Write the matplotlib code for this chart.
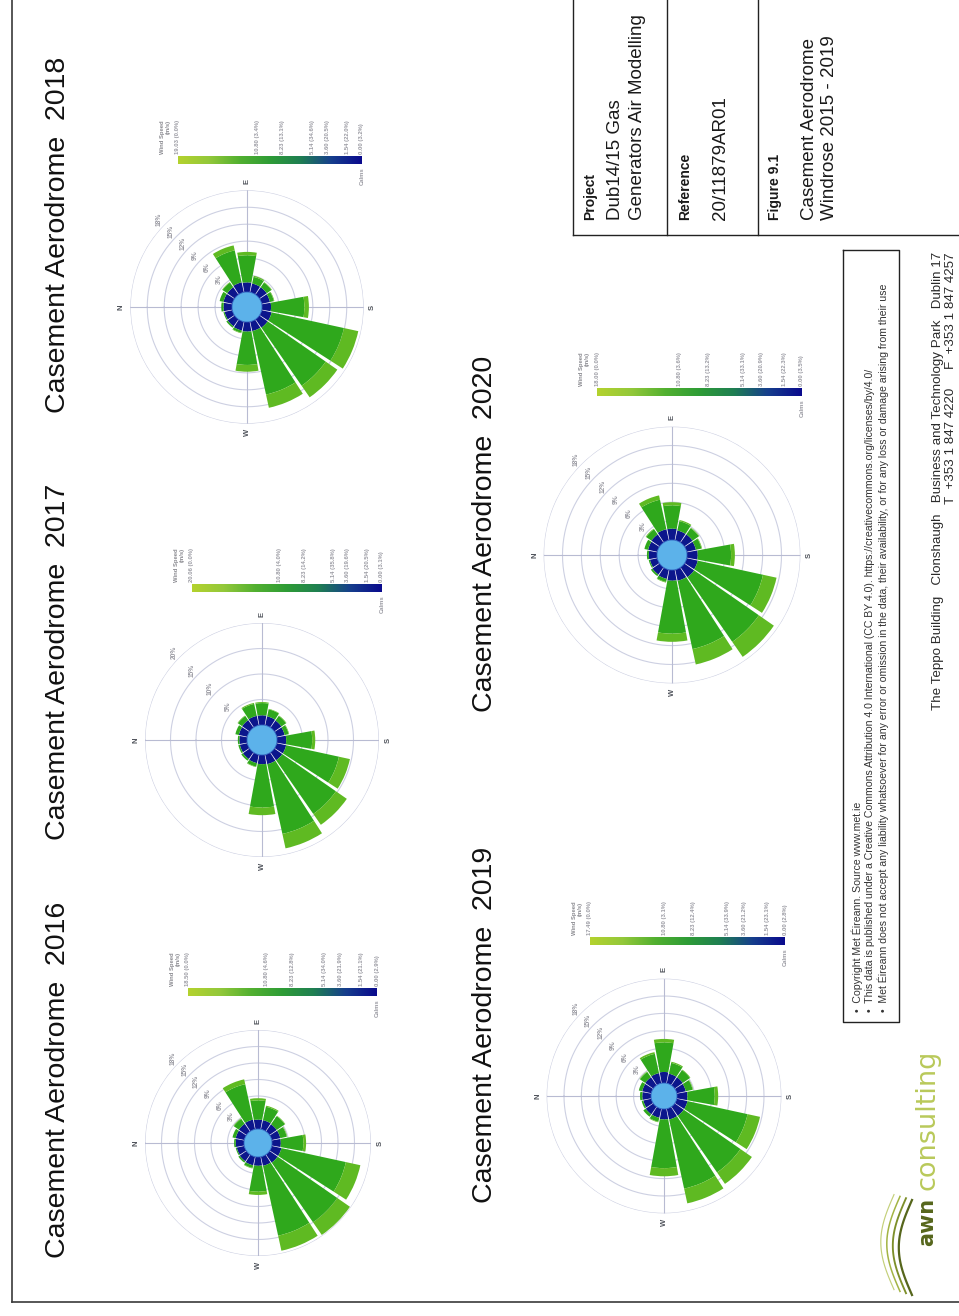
import numpy as np
import matplotlib.pyplot as plt
from matplotlib.colors import LinearSegmentedColormap

plt.rcParams['font.family'] = ['Liberation Sans', 'DejaVu Sans']

# 16-point compass, frequencies in % of hours per speed band
directions = ['N', 'NNE', 'NE', 'ENE', 'E', 'ESE', 'SE', 'SSE',
              'S', 'SSW', 'SW', 'WSW', 'W', 'WNW', 'NW', 'NNW']

slow_2016 = [1.5, 1.6, 1.7, 1.8, 1.7, 1.7, 1.6, 1.6, 1.6, 1.8, 1.8, 1.7, 1.6, 1.6, 1.5, 1.4]
mid_2016 = [0.3, 0.6, 1.1, 6.6, 3.5, 2.5, 1.8, 1.2, 4.1, 12.0, 13.2, 13.0, 4.7, 0.5, 0.3, 0.2]
fast_2016 = [0.0, 0.0, 0.1, 0.9, 0.4, 0.2, 0.1, 0.1, 0.5, 2.7, 2.8, 2.8, 0.6, 0.1, 0.0, 0.0]

slow_2017 = [1.5, 1.7, 1.8, 1.9, 1.9, 1.8, 1.7, 1.6, 1.8, 1.9, 1.9, 1.9, 1.8, 1.7, 1.6, 1.5]
mid_2017 = [0.3, 0.7, 1.0, 2.4, 2.4, 1.4, 1.1, 0.8, 5.1, 10.6, 12.8, 14.0, 8.5, 0.7, 0.4, 0.3]
fast_2017 = [0.0, 0.0, 0.1, 0.2, 0.2, 0.1, 0.1, 0.1, 0.6, 2.2, 2.6, 2.9, 1.5, 0.1, 0.0, 0.0]

slow_2018 = [1.5, 1.6, 1.6, 1.8, 1.7, 1.6, 1.6, 1.5, 1.6, 1.8, 1.8, 1.7, 1.7, 1.6, 1.5, 1.4]
mid_2018 = [0.4, 0.7, 1.0, 5.8, 4.8, 1.2, 1.0, 0.7, 5.9, 13.1, 12.5, 11.5, 5.9, 0.4, 0.3, 0.2]
fast_2018 = [0.0, 0.0, 0.1, 0.9, 0.6, 0.2, 0.1, 0.1, 0.8, 2.6, 2.5, 2.4, 1.2, 0.1, 0.0, 0.0]

slow_2019 = [1.5, 1.6, 1.7, 1.8, 1.9, 1.7, 1.7, 1.6, 1.8, 1.9, 1.9, 1.9, 1.8, 1.6, 1.6, 1.4]
mid_2019 = [0.4, 0.6, 1.1, 3.4, 5.1, 1.9, 1.5, 1.2, 4.7, 10.6, 11.9, 12.2, 8.4, 0.7, 0.5, 0.3]
fast_2019 = [0.0, 0.0, 0.1, 0.3, 0.6, 0.2, 0.1, 0.1, 0.6, 2.2, 2.4, 2.6, 1.4, 0.1, 0.0, 0.0]

slow_2020 = [1.3, 1.5, 1.6, 1.8, 1.8, 1.6, 1.6, 1.5, 1.7, 1.8, 1.9, 1.8, 1.7, 1.5, 1.4, 1.2]
mid_2020 = [0.3, 0.6, 1.0, 4.8, 3.7, 1.5, 1.2, 0.9, 5.3, 10.6, 12.5, 11.1, 8.4, 0.5, 0.3, 0.2]
fast_2020 = [0.0, 0.0, 0.1, 0.7, 0.5, 0.2, 0.1, 0.1, 0.6, 2.2, 2.9, 2.5, 1.3, 0.1, 0.0, 0.0]

# speed-band legend: class thresholds (m/s) and share of hours per band
band_speeds = [10.80, 8.23, 5.14, 3.60, 1.54, 0.00]
top_speed = {2016: 18.50, 2017: 20.06, 2018: 19.03, 2019: 17.49, 2020: 18.00}
band_pct = {
    2016: [0.0, 4.6, 12.8, 34.0, 21.9, 21.1, 2.9],
    2017: [0.0, 4.0, 14.2, 35.8, 19.6, 20.5, 3.1],
    2018: [0.0, 3.4, 13.1, 34.6, 20.5, 22.0, 3.2],
    2019: [0.0, 3.1, 12.4, 33.9, 21.2, 23.1, 2.8],
    2020: [0.0, 3.6, 13.2, 33.1, 20.9, 22.3, 3.5],
}
ring_step = {2016: 3, 2017: 5, 2018: 3, 2019: 3, 2020: 3}
ring_count = {2016: 6, 2017: 4, 2018: 6, 2019: 6, 2020: 6}

roses = {
    2016: (slow_2016, mid_2016, fast_2016),
    2017: (slow_2017, mid_2017, fast_2017),
    2018: (slow_2018, mid_2018, fast_2018),
    2019: (slow_2019, mid_2019, fast_2019),
    2020: (slow_2020, mid_2020, fast_2020),
}

# page layout in pixels (page is laid out turned on its side)
W_PX, H_PX = 959, 1316
layout = {
    # centre x, centre y, px per %, calm circle px, legend x0, x1, y, title x, title bottom
    2016: dict(cx=258, cy=1143, ppp=5.5, hole=14, lx0=188, lx1=377, ly=992, tx=58, ty=1258),
    2017: dict(cx=262, cy=740, ppp=5.1, hole=15, lx0=192, lx1=382, ly=588, tx=58, ty=840),
    2018: dict(cx=247, cy=307, ppp=5.65, hole=15, lx0=178, lx1=362, ly=160, tx=58, ty=413),
    2019: dict(cx=664, cy=1096, ppp=5.8, hole=13, lx0=590, lx1=785, ly=941, tx=485, ty=1203),
    2020: dict(cx=672, cy=555, ppp=6.3, hole=15, lx0=597, lx1=802, ly=392, tx=485, ty=712),
}

C_SLOW, C_MID, C_FAST = '#0c168c', '#2fa81c', '#5fba22'
C_CALM = '#5cb2ea'
GRID = '#cdd0e2'
LABEL_GREY = '#9a9aa2'
legend_cmap = LinearSegmentedColormap.from_list(
    'wspd', ['#b4d22e', '#93c83a', '#52b030', '#2e9c36', '#1f7f52', '#163f8c', '#0a0a8e'])

fig = plt.figure(figsize=(W_PX / 100, H_PX / 100), dpi=100)
page = fig.add_axes([0, 0, 1, 1])
page.axis('off')

theta = np.deg2rad(np.arange(16) * 22.5)
width = np.deg2rad(20.5)
circle = np.linspace(0, 2 * np.pi, 361)

for year, (slow, mid, fast) in roses.items():
    L = layout[year]
    ppp = L['ppp']
    hole = L['hole'] / ppp
    step = ring_step[year]
    outer = hole + step * ring_count[year]
    R = outer * ppp
    ax = fig.add_axes([(L['cx'] - R) / W_PX, 1 - (L['cy'] + R) / H_PX,
                       2 * R / W_PX, 2 * R / H_PX], projection='polar')
    ax.set_theta_zero_location('W')
    ax.set_theta_direction(-1)
    ax.set_ylim(0, outer)
    ax.axis('off')

    for k in range(1, ring_count[year] + 1):
        ax.plot(circle, np.full_like(circle, hole + k * step), color=GRID, lw=0.8, zorder=1)
        ax.text(np.deg2rad(45), hole + k * step + 7 / ppp, f'{k * step}%',
                color=LABEL_GREY, fontsize=4.8, fontweight='bold', rotation=90,
                ha='center', va='center', zorder=2)
    for a in (0, 90, 180, 270):
        ax.plot([np.deg2rad(a)] * 2, [0, outer], color='#b8bbd2', lw=0.8, zorder=1)
    for a, lab in zip((0, 90, 180, 270), ('N', 'E', 'S', 'W')):
        ax.text(np.deg2rad(a), outer + 9 / ppp, lab, color='#50545c', fontsize=5.5,
                fontweight='bold', rotation=90, ha='center', va='center', clip_on=False)

    slow = np.array(slow)
    mid = np.array(mid)
    fast = np.array(fast)
    ax.bar(theta, slow, width=width, bottom=hole, color=C_SLOW, zorder=3)
    ax.bar(theta, mid, width=width, bottom=hole + slow, color=C_MID, zorder=3)
    ax.bar(theta, fast, width=width, bottom=hole + slow + mid, color=C_FAST, zorder=3)
    ax.fill(circle, np.full_like(circle, hole), color=C_CALM, ec='#2a5fc0', lw=0.6, zorder=4)

    # speed legend bar with band labels above it
    x0, x1, ly = L['lx0'], L['lx1'], L['ly']
    page.imshow(np.linspace(0, 1, 256)[None, :], cmap=legend_cmap, aspect='auto',
                extent=[x0, x1, ly + 4, ly - 4], zorder=2)
    vmax = top_speed[year]
    speeds = [vmax] + band_speeds
    for v, p in zip(speeds, band_pct[year]):
        xv = x0 + (vmax - v) / vmax * (x1 - x0)
        page.text(xv, ly - 6, f'{v:.2f} ({p:.1f}%)', color=LABEL_GREY, fontsize=4.2,
                  fontweight='bold', rotation=90, ha='center', va='bottom')
    page.text(x0 - 7, ly - 6, 'Wind Speed\n(m/s)', color='#8a8a90', fontsize=4.2,
              fontweight='bold', rotation=90, ha='right', va='bottom', linespacing=1.3)
    page.text(x1, ly + 7, 'Calms', color=LABEL_GREY, fontsize=4.2, fontweight='bold',
              rotation=90, ha='center', va='top')

    page.text(L['tx'], L['ty'], f'Casement Aerodrome  {year}', fontsize=20.5,
              rotation=90, ha='center', va='bottom', color='#111111')

# page frame
page.plot([12, 12], [0, 1302], color='#3a3a3a', lw=1.2)
page.plot([12, W_PX], [1302, 1302], color='#3a3a3a', lw=1.2)

# title block
for seg in ([[573, 573], [0, 235]], [[573, W_PX], [235, 235]],
            [[667, 667], [0, 235]], [[758, 758], [0, 235]]):
    page.plot(seg[0], seg[1], color='#222222', lw=1.0)
tb = [(590, 'Project', 10, 'bold'), (615, 'Dub14/15 Gas', 13.5, 'normal'),
      (637, 'Generators Air Modelling', 13.5, 'normal'),
      (685, 'Reference', 10, 'bold'), (720, '20/11879AR01', 13.5, 'normal'),
      (775, 'Figure 9.1', 10, 'bold'), (809, 'Casement Aerodrome', 13.5, 'normal'),
      (830, 'Windrose 2015 - 2019', 13.5, 'normal')]
for x, s, fs, fw in tb:
    page.text(x, 220, s, fontsize=fs, fontweight=fw, rotation=90,
              ha='center', va='bottom', color='#1a1a1a')

# data notice box
page.plot([843, 899, 899, 843, 843], [250, 250, 1022, 1022, 250], color='#222222', lw=1.0)
notes = ['\u2022  Copyright Met \u00c9ireann. Source www.met.ie',
         '\u2022  This data is published under a Creative Commons Attribution 4.0 International '
         '(CC BY 4.0). https://creativecommons.org/licenses/by/4.0/',
         '\u2022  Met \u00c9ireann does not accept any liability whatsoever for any error or omission '
         'in the data, their availability, or for any loss or damage arising from their use']
for x, s in zip((857, 870, 883), notes):
    page.text(x, 1012, s, fontsize=7.6, rotation=90, ha='center', va='bottom', color='#333333')

# address footer
page.text(938, 252, 'The Teppo Building   Clonshaugh   Business and Technology Park   Dublin 17',
          fontsize=9.6, rotation=90, ha='center', va='top', color='#2a2a2a')
page.text(951, 252, 'T  +353 1 847 4220     F  +353 1 847 4257',
          fontsize=9.6, rotation=90, ha='center', va='top', color='#2a2a2a')

# company logo
page.text(927, 1246, 'awn', fontsize=15, fontweight='bold', family='DejaVu Sans',
          rotation=90, ha='center', va='bottom', color='#56661c')
page.text(928, 1190, 'consulting', fontsize=19.5, family='DejaVu Sans',
          rotation=90, ha='center', va='bottom', color='#b9c95a')
s = np.linspace(0, 1, 40)
for i, (dx, c) in enumerate([(0, '#56661c'), (6, '#7d8f2a'), (12, '#a3b444'), (18, '#c4d07a')]):
    page.plot(912 - dx - 22 * np.sin(np.pi * s) * 0.6, 1200 + 95 * s - dx * 0.3,
              color=c, lw=1.6 - i * 0.25)

page.set_xlim(0, W_PX)
page.set_ylim(H_PX, 0)
fig.savefig('out.png', dpi=100, facecolor='white')
